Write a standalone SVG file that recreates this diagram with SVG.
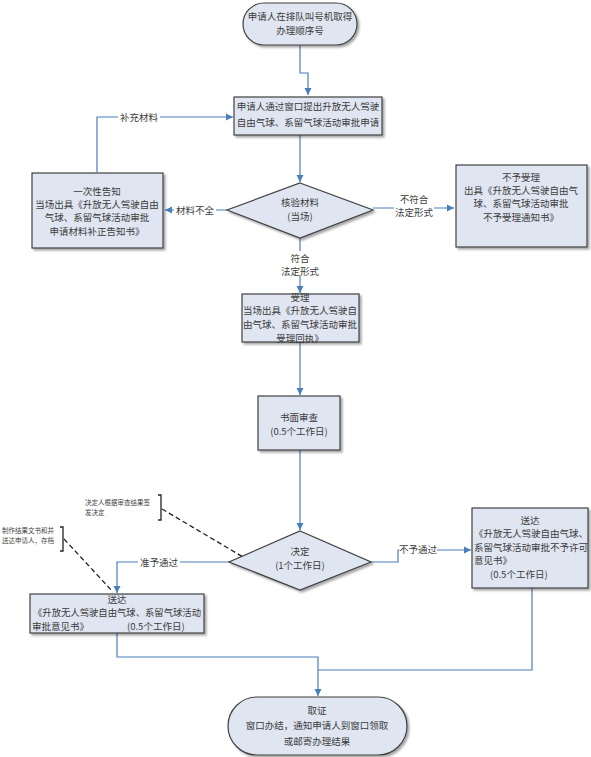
<svg xmlns="http://www.w3.org/2000/svg" width="591" height="757" viewBox="0 0 591 757">
<defs>
<marker id="arr" markerWidth="8" markerHeight="8" refX="7" refY="4" orient="auto" markerUnits="userSpaceOnUse">
<path d="M0,0.5 L7,4 L0,7.5 Z" fill="#4a7ebb"/>
</marker>
<filter id="sh" x="-10%" y="-10%" width="130%" height="130%">
<feDropShadow dx="2" dy="2" stdDeviation="0.8" flood-color="#000" flood-opacity="0.35"/>
</filter>
</defs>
<style>
.n{fill:#dfe5f1;stroke:#404040;stroke-width:1.2;filter:url(#sh)}
.t{font-family:"Noto Sans CJK SC","Liberation Serif",serif;font-size:9.5px;fill:#3c3c3c;text-anchor:middle}
.tl{font-family:"Noto Sans CJK SC","Liberation Serif",serif;font-size:9.5px;fill:#3c3c3c}
.s{font-family:"Noto Sans CJK SC","Liberation Serif",serif;font-size:6.5px;fill:#444}
.c{fill:none;stroke:#4a7ebb;stroke-width:1.2}
.d{fill:none;stroke:#222;stroke-width:1.3;stroke-dasharray:5,3}
.b{fill:none;stroke:#222;stroke-width:1.3}
.lb{fill:#fff}
</style>
<rect width="591" height="757" fill="#fff"/>

<g id="connectors">
<path class="c" d="M300,45 V73 H308 V95" marker-end="url(#arr)"/>
<path class="c" d="M300,135 V182" marker-end="url(#arr)"/>
<path class="c" d="M97,172 V117 H233" marker-end="url(#arr)"/>
<path class="c" d="M227,210 H165" marker-end="url(#arr)"/>
<path class="c" d="M373,208 H454" marker-end="url(#arr)"/>
<path class="c" d="M300,238 V293" marker-end="url(#arr)"/>
<path class="c" d="M300,342 V395" marker-end="url(#arr)"/>
<path class="c" d="M300,450 V530" marker-end="url(#arr)"/>
<path class="c" d="M229,562 H117 V593" marker-end="url(#arr)"/>
<path class="c" d="M371,562 H398 V550 H471" marker-end="url(#arr)"/>
<path class="c" d="M117,633 V657 H318 V696" marker-end="url(#arr)"/>
<path class="c" d="M532,588 V670 H318"/>
<rect class="lb" x="118" y="111" width="42" height="12"/>
<text class="t" x="139" y="121">补充材料</text>
<rect class="lb" x="174" y="204" width="42" height="12"/>
<text class="t" x="195" y="214">材料不全</text>
<rect class="lb" x="394" y="193" width="40" height="25"/>
<text class="t" x="414" y="203">不符合</text>
<text class="t" x="414" y="216">法定形式</text>
<rect class="lb" x="279" y="251" width="42" height="25"/>
<text class="t" x="300" y="262">符合</text>
<text class="t" x="300" y="275">法定形式</text>
<rect class="lb" x="138" y="556" width="42" height="12"/>
<text class="t" x="159" y="566">准予通过</text>
<rect class="lb" x="399" y="543" width="38" height="12"/>
<text class="t" x="418" y="553">不予通过</text>
</g>

<g id="start">
<rect class="n" x="243" y="3" width="114" height="42" rx="21" ry="21"/>
<text class="t" x="300" y="20">申请人在排队叫号机取得</text>
<text class="t" x="300" y="34">办理顺序号</text>
</g>

<g id="apply">
<rect class="n" x="234" y="97" width="148" height="38"/>
<text class="t" x="308" y="110">申请人通过窗口提出升放无人驾驶</text>
<text class="t" x="308" y="126">自由气球、系留气球活动审批申请</text>
</g>

<g id="notify">
<rect class="n" x="32" y="173" width="131" height="75"/>
<text class="t" x="97" y="195">一次性告知</text>
<text class="t" x="97" y="208">当场出具《升放无人驾驶自由</text>
<text class="t" x="97" y="221">气球、系留气球活动审批</text>
<text class="t" x="97" y="235">申请材料补正告知书》</text>
</g>

<g id="check">
<polygon class="n" points="300,183 373,210 300,238 227,210"/>
<text class="t" x="300" y="206">核验材料</text>
<text class="t" x="300" y="220">(当场)</text>
</g>

<g id="reject">
<rect class="n" x="456" y="165" width="131" height="82"/>
<text class="t" x="521" y="181">不予受理</text>
<text class="t" x="521" y="194">出具《升放无人驾驶自由气</text>
<text class="t" x="521" y="207">球、系留气球活动审批</text>
<text class="t" x="521" y="221">不予受理通知书》</text>
</g>

<g id="accept">
<rect class="n" x="242" y="294" width="117" height="48"/>
<text class="t" x="300" y="301">受理</text>
<text class="t" x="300" y="314">当场出具《升放无人驾驶自</text>
<text class="t" x="300" y="328">由气球、系留气球活动审批</text>
<text class="t" x="300" y="342">受理回执》</text>
</g>

<g id="review">
<rect class="n" x="258" y="396" width="82" height="54"/>
<text class="t" x="299" y="421">书面审查</text>
<text class="t" x="299" y="435">(0.5个工作日)</text>
</g>

<g id="decide">
<polygon class="n" points="300,531 371,562 300,590 229,562"/>
<text class="t" x="300" y="555">决定</text>
<text class="t" x="300" y="569">(1个工作日)</text>
</g>

<g id="note1">
<text class="s" x="85" y="505">决定人根据审查结果签</text>
<text class="s" x="85" y="515">发决定</text>
<path class="b" d="M158,495 H161 V520 H158"/>
<path class="d" d="M162,509 L243,557"/>
</g>

<g id="note2">
<text class="s" x="2" y="533">制作结果文书和并</text>
<text class="s" x="2" y="543">送达申请人，存档</text>
<path class="b" d="M60,527 H63 V551 H60"/>
<path class="d" d="M64,539 L113,592"/>
</g>

<g id="deliver-ok">
<rect class="n" x="30" y="594" width="174" height="39"/>
<text class="t" x="117" y="603">送达</text>
<text class="tl" x="33" y="616" textLength="168" lengthAdjust="spacingAndGlyphs">《升放无人驾驶自由气球、系留气球活动</text>
<text class="tl" x="32" y="630">审批意见书》</text>
<text class="tl" x="127" y="630">(0.5个工作日)</text>
</g>

<g id="deliver-no">
<rect class="n" x="472" y="508" width="116" height="80"/>
<text class="t" x="530" y="524">送达</text>
<text class="tl" x="474" y="537">《升放无人驾驶自由气球、</text>
<text class="tl" x="474" y="551">系留气球活动审批不予许可</text>
<text class="tl" x="474" y="564">意见书》</text>
<text class="tl" x="490" y="578">(0.5个工作日)</text>
</g>

<g id="end">
<rect class="n" x="228" y="697" width="179" height="58" rx="29" ry="29"/>
<text class="t" x="317" y="714">取证</text>
<text class="t" x="317" y="729">窗口办结，通知申请人到窗口领取</text>
<text class="t" x="317" y="745">或邮寄办理结果</text>
</g>
</svg>
